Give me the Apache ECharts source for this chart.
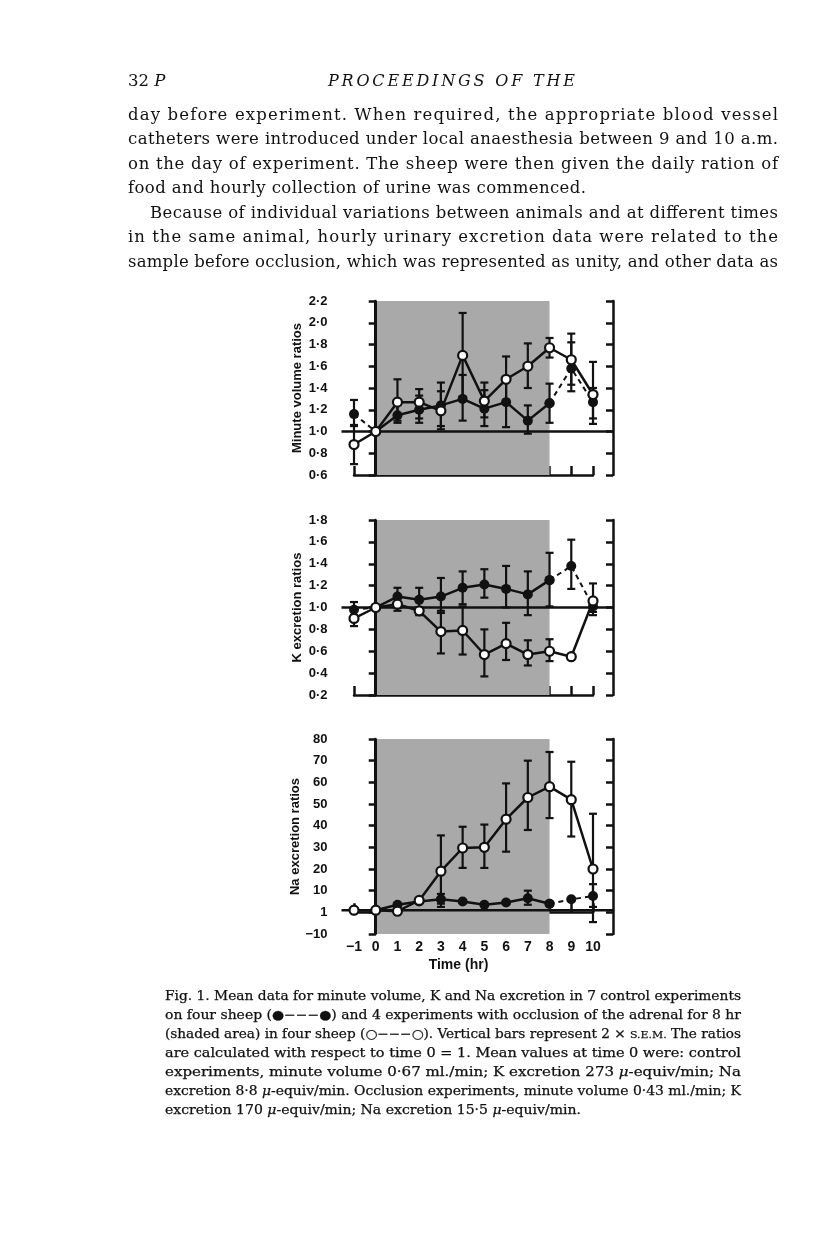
<!DOCTYPE html>
<html>
<head>
<meta charset="utf-8">
<script src="https://cdn.jsdelivr.net/npm/echarts/dist/echarts.min.js"></script>
<style>
  html, body { margin: 0; padding: 0; background: #fff; }
  #page { position: relative; width: 816px; height: 1258px; overflow: hidden; }
  #chart { position: absolute; left: 0; top: 0; width: 816px; height: 1258px; }
  #txt { position: absolute; left: 0; top: 0; }
  #txt text { font-family: "DejaVu Serif", serif; fill: #111; }
  #txt .cap { stroke: #111; stroke-width: 0.25; }
</style>
</head>
<body>
<div id="page">
  <div id="chart"></div>
  <svg id="txt" width="816" height="1258">
    <text x="128" y="86" font-size="16.5">32 <tspan font-style="italic">P</tspan></text>
    <text x="328" y="86" font-size="16" font-style="italic" textLength="247" lengthAdjust="spacing">PROCEEDINGS OF THE</text>

    <text x="128" y="120" font-size="16.5" textLength="650" lengthAdjust="spacing">day before experiment. When required, the appropriate blood vessel</text>
    <text x="128" y="144" font-size="16.5" textLength="650" lengthAdjust="spacing">catheters were introduced under local anaesthesia between 9 and 10 a.m.</text>
    <text x="128" y="168.5" font-size="16.5" textLength="650" lengthAdjust="spacing">on the day of experiment. The sheep were then given the daily ration of</text>
    <text x="128" y="193" font-size="16.5" textLength="458" lengthAdjust="spacing">food and hourly collection of urine was commenced.</text>
    <text x="150" y="218" font-size="16.5" textLength="628" lengthAdjust="spacing">Because of individual variations between animals and at different times</text>
    <text x="128" y="242" font-size="16.5" textLength="650" lengthAdjust="spacing">in the same animal, hourly urinary excretion data were related to the</text>
    <text x="128" y="267" font-size="16.5" textLength="650" lengthAdjust="spacing">sample before occlusion, which was represented as unity, and other data as</text>

    <text class="cap" x="165" y="1000" font-size="12.5" textLength="576" lengthAdjust="spacingAndGlyphs">Fig. 1. Mean data for minute volume, K and Na excretion in 7 control experiments</text>
    <text class="cap" x="165" y="1019" font-size="12.5" textLength="576" lengthAdjust="spacingAndGlyphs">on four sheep (●−−−●) and 4 experiments with occlusion of the adrenal for 8 hr</text>
    <text class="cap" x="165" y="1038" font-size="12.5" textLength="576" lengthAdjust="spacingAndGlyphs">(shaded area) in four sheep (○−−−○). Vertical bars represent 2 × <tspan font-size="10">S.E.M.</tspan> The ratios</text>
    <text class="cap" x="165" y="1057" font-size="12.5" textLength="576" lengthAdjust="spacingAndGlyphs">are calculated with respect to time 0 = 1. Mean values at time 0 were: control</text>
    <text class="cap" x="165" y="1076" font-size="12.5" textLength="576" lengthAdjust="spacingAndGlyphs">experiments,  minute  volume  0·67 ml./min;  K  excretion  273 <tspan font-style="italic">μ</tspan>-equiv/min;  Na</text>
    <text class="cap" x="165" y="1095" font-size="12.5" textLength="576" lengthAdjust="spacingAndGlyphs">excretion 8·8 <tspan font-style="italic">μ</tspan>-equiv/min. Occlusion experiments, minute volume 0·43 ml./min; K</text>
    <text class="cap" x="165" y="1114" font-size="12.5" textLength="416" lengthAdjust="spacingAndGlyphs">excretion 170 <tspan font-style="italic">μ</tspan>-equiv/min; Na excretion 15·5 <tspan font-style="italic">μ</tspan>-equiv/min.</text>
  </svg>
</div>
<script>
"use strict";

var hours = [-1, 0, 1, 2, 3, 4, 5, 6, 7, 8, 9, 10];

// minute volume ratios (control = filled, occlusion = open)
var volCtrl   = [1.16, 1.00, 1.15, 1.20, 1.24, 1.30, 1.21, 1.27, 1.10, 1.26, 1.58, 1.27];
var volCtrlLo = [1.05, null, 1.08, 1.08, 1.02, 1.10, 1.05, 1.04, 0.98, 1.08, 1.37, 1.12];
var volCtrlHi = [1.29, null, 1.25, 1.33, 1.45, 1.52, 1.38, 1.50, 1.24, 1.44, 1.82, 1.40];
var volOccl   = [0.88, 1.00, 1.27, 1.27, 1.19, 1.70, 1.28, 1.48, 1.60, 1.77, 1.66, 1.34];
var volOcclLo = [0.70, null, 1.10, 1.12, 1.05, 1.31, 1.13, 1.28, 1.40, 1.68, 1.43, 1.07];
var volOcclHi = [1.06, null, 1.48, 1.39, 1.37, 2.09, 1.45, 1.69, 1.81, 1.86, 1.90, 1.64];

// K excretion ratios
var kCtrl   = [0.98, 1.00, 1.10, 1.07, 1.10, 1.18, 1.21, 1.17, 1.12, 1.25, 1.38, 1.01];
var kCtrlLo = [0.93, null, 1.00, 0.97, 0.95, 1.03, 1.09, 1.00, 0.93, 1.01, 1.17, 0.96];
var kCtrlHi = [1.05, null, 1.18, 1.18, 1.27, 1.33, 1.35, 1.38, 1.33, 1.50, 1.62, 1.06];
var kOccl   = [0.90, 1.00, 1.03, 0.97, 0.78, 0.79, 0.57, 0.67, 0.57, 0.60, 0.55, 1.06];
var kOcclLo = [0.83, null, 0.97, 0.93, 0.58, 0.57, 0.37, 0.52, 0.47, 0.51, null, 0.93];
var kOcclHi = [0.97, null, 1.08, 1.00, 0.97, 1.01, 0.80, 0.86, 0.70, 0.71, null, 1.22];

// Na excretion ratios
var naCtrl   = [1, 1, 3.5, 5, 6, 5, 3.5, 4.5, 6.5, 4, 6, 7.5];
var naCtrlLo = [null, null, null, null, 4, null, null, null, 3.5, null, null, 2.5];
var naCtrlHi = [null, null, null, null, 8.5, null, null, null, 10, null, null, 13];
var naOccl   = [1, 1, 0.5, 5.5, 19, 29.7, 30, 43, 53, 58, 52, 20];
var naOcclLo = [null, null, null, null, 2.5, 20.5, 20.5, 28, 38, 43.5, 35, -4.5];
var naOcclHi = [null, null, null, null, 35.5, 39.5, 40.5, 59.5, 70, 74, 69.5, 45.5];

var panelNames = ["Minute volume ratios", "K excretion ratios", "Na excretion ratios"];
var yMin = [0.6, 0.2, -10];
var yMax = [2.2, 1.8, 80];
var yStep = [0.2, 0.2, 10];
var occlStart = 0, occlEnd = 8;  // shaded area (hr)
var unity = 1;

var panels = [
  { ctrl: volCtrl, ctrlLo: volCtrlLo, ctrlHi: volCtrlHi, occl: volOccl, occlLo: volOcclLo, occlHi: volOcclHi },
  { ctrl: kCtrl, ctrlLo: kCtrlLo, ctrlHi: kCtrlHi, occl: kOccl, occlLo: kOcclLo, occlHi: kOcclHi },
  { ctrl: naCtrl, ctrlLo: naCtrlLo, ctrlHi: naCtrlHi, occl: naOccl, occlLo: naOcclLo, occlHi: naOcclHi }
];

var INK = "#111";
var gridLeft = 354, gridWidth = 239;
var gridTop = [301, 520, 739];
var gridHeight = [174, 175, 195];
var leftOffset = 12.5, rightOffset = 20;
var labelFont = { fontFamily: "Liberation Sans", fontWeight: "bold", fontSize: 13, color: INK };

function fmtY(p) {
  return function (v) {
    if (p === 2) {
      if (v === 0) return "1";
      return v < 0 ? "\u2212" + Math.abs(v) : String(v);
    }
    return v.toFixed(1).replace(".", "\u00b7");
  };
}

function errBars(p, lo, hi) {
  var data = [];
  hours.forEach(function (h, i) {
    if (lo[i] != null && hi[i] != null) data.push([h, lo[i], hi[i]]);
  });
  return {
    type: "custom",
    xAxisIndex: p,
    yAxisIndex: p * 2,
    z: 3,
    silent: true,
    data: data,
    renderItem: function (params, api) {
      var x = api.value(0);
      var a = api.coord([x, api.value(1)]);
      var b = api.coord([x, api.value(2)]);
      var w = 4;
      var st = { stroke: INK, lineWidth: 2.2 };
      return {
        type: "group",
        children: [
          { type: "line", shape: { x1: a[0], y1: a[1], x2: b[0], y2: b[1] }, style: st },
          { type: "line", shape: { x1: a[0] - w, y1: a[1], x2: a[0] + w, y2: a[1] }, style: st },
          { type: "line", shape: { x1: b[0] - w, y1: b[1], x2: b[0] + w, y2: b[1] }, style: st }
        ]
      };
    }
  };
}

var grids = [], xAxes = [], yAxes = [], series = [];

panels.forEach(function (d, p) {
  grids.push({ left: gridLeft, top: gridTop[p], width: gridWidth, height: gridHeight[p] });

  xAxes.push({
    type: "value", gridIndex: p, min: -1, max: 10, interval: 1,
    axisLine: { show: true, lineStyle: { color: INK, width: 2.5 } },
    axisTick: { show: true, inside: true, length: 9, lineStyle: { color: INK, width: 2.5 } },
    axisLabel: {
      show: p === 2, margin: 6,
      fontFamily: "Liberation Sans", fontWeight: "bold", fontSize: 14, color: INK,
      formatter: function (v) { return v < 0 ? "\u2212" + Math.abs(v) : String(v); }
    },
    splitLine: { show: false },
    name: p === 2 ? "Time (hr)" : "",
    nameLocation: "middle", nameGap: 24,
    nameTextStyle: { fontFamily: "Liberation Sans", fontWeight: "bold", fontSize: 14, color: INK, padding: [0, 30, 0, 0] }
  });

  yAxes.push({
    type: "value", gridIndex: p, position: "left", offset: leftOffset,
    min: yMin[p], max: yMax[p], interval: yStep[p],
    axisLine: { show: true, lineStyle: { color: INK, width: 2.5 } },
    axisTick: { show: true, length: 7, lineStyle: { color: INK, width: 2.5 } },
    axisLabel: Object.assign({ margin: 14, formatter: fmtY(p) }, labelFont),
    splitLine: { show: false },
    name: panelNames[p], nameLocation: "middle", nameGap: 38,
    nameTextStyle: { fontFamily: "Liberation Sans", fontWeight: "bold", fontSize: 13, color: INK }
  });
  yAxes.push({
    type: "value", gridIndex: p, position: "right", offset: rightOffset,
    min: yMin[p], max: yMax[p], interval: yStep[p],
    axisLine: { show: true, lineStyle: { color: INK, width: 2.5 } },
    axisTick: { show: true, inside: true, length: 7, lineStyle: { color: INK, width: 2.5 } },
    axisLabel: { show: false },
    splitLine: { show: false }
  });

  // shaded occlusion period + start line
  series.push({
    type: "line", xAxisIndex: p, yAxisIndex: p * 2, z: 1, silent: true,
    data: [], symbol: "none",
    markArea: {
      silent: true,
      itemStyle: { color: "#a9a9a9" },
      data: [[{ xAxis: occlStart }, { xAxis: occlEnd }]]
    },
    markLine: {
      silent: true, symbol: "none", label: { show: false },
      lineStyle: { color: INK, width: 3, type: "solid" },
      data: [{ xAxis: occlStart }]
    }
  });

  series.push(errBars(p, d.ctrlLo, d.ctrlHi));
  series.push(errBars(p, d.occlLo, d.occlHi));

  // control: solid inside the shaded period, dashed outside
  series.push({
    type: "line", xAxisIndex: p, yAxisIndex: p * 2, z: 4,
    data: hours.map(function (h, i) { return [h, h >= occlStart && h <= occlEnd ? d.ctrl[i] : null]; }),
    symbol: "circle", symbolSize: 10,
    itemStyle: { color: INK },
    lineStyle: { color: INK, width: 2.5 }
  });
  series.push({
    type: "line", xAxisIndex: p, yAxisIndex: p * 2, z: 4,
    data: hours.map(function (h, i) { return [h, h <= occlStart || h >= occlEnd ? d.ctrl[i] : null]; }),
    symbol: "circle", symbolSize: 10,
    itemStyle: { color: INK },
    lineStyle: { color: INK, width: 2, type: [5, 4] }
  });
  // occlusion: open circles, solid line
  series.push({
    type: "line", xAxisIndex: p, yAxisIndex: p * 2, z: 5,
    data: hours.map(function (h, i) { return [h, d.occl[i]]; }),
    symbol: "circle", symbolSize: 9,
    itemStyle: { color: "#fff", borderColor: INK, borderWidth: 2.2 },
    lineStyle: { color: INK, width: 2.5 }
  });
});

var chart = echarts.init(document.getElementById("chart"));
chart.setOption({
  animation: false,
  grid: grids,
  xAxis: xAxes,
  yAxis: yAxes,
  series: series
});

// unity line runs from the left axis to the right axis
var refLines = panels.map(function (d, p) {
  var y = chart.convertToPixel({ yAxisIndex: p * 2 }, unity);
  return {
    type: "line", z: 3, silent: true,
    shape: { x1: gridLeft - leftOffset, y1: y, x2: gridLeft + gridWidth + rightOffset, y2: y },
    style: { stroke: INK, lineWidth: 2.5 }
  };
});
chart.setOption({ graphic: refLines });
</script>
</body>
</html>
